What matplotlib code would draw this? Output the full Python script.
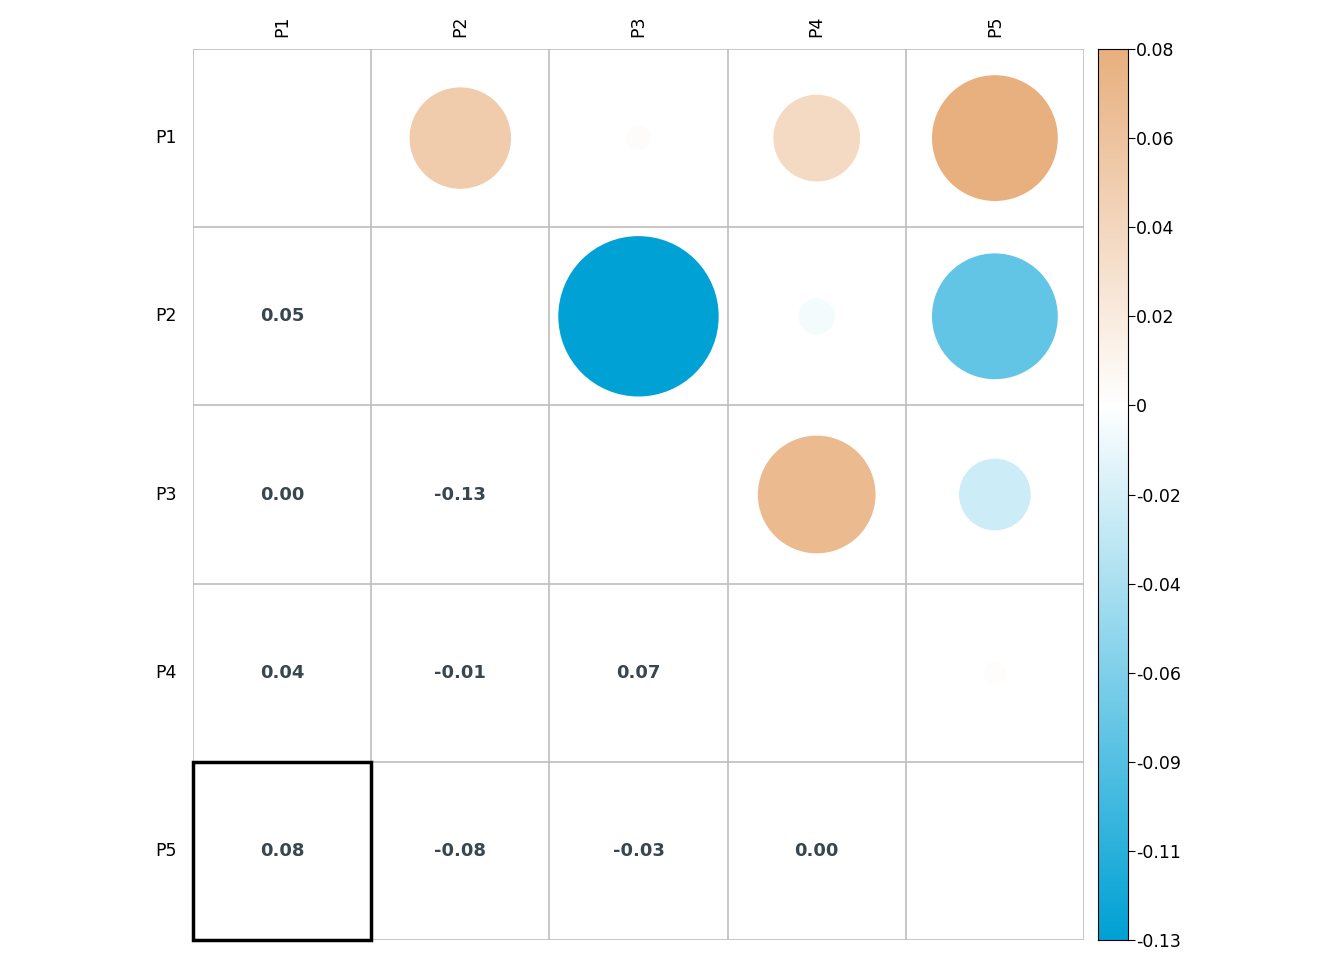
import numpy as np
import matplotlib as mpl
mpl.use('Agg')
import matplotlib.pyplot as plt
from matplotlib.patches import Circle, Rectangle
from matplotlib.colors import LinearSegmentedColormap

labels = ["P1", "P2", "P3", "P4", "P5"]
# symmetric correlation values (upper shown as circles, lower as numbers)
corr = np.array([
    [1.0,    0.052,  0.003,  0.038,  0.08],
    [0.052,  1.0,   -0.13,  -0.0066, -0.08],
    [0.003, -0.13,   1.0,    0.07,  -0.026],
    [0.038, -0.0066, 0.07,   1.0,    0.0025],
    [0.08,  -0.08,  -0.026,  0.0025, 1.0],
])
vmin, vmax = -0.13, 0.08
cbar_ticks = ["0.08", "0.06", "0.04", "0.02", "0", "-0.02", "-0.04",
              "-0.06", "-0.09", "-0.11", "-0.13"]

neg_c, pos_c = "#00A1D5", "#E8B07F"
cmap_neg = LinearSegmentedColormap.from_list("neg", [neg_c, "#FFFFFF"])
cmap_pos = LinearSegmentedColormap.from_list("pos", ["#FFFFFF", pos_c])

def colour(v):
    if v >= 0:
        return cmap_pos(v / vmax)
    return cmap_neg(1 - v / vmin)

fig = plt.figure(figsize=(13.44, 9.6), dpi=100)
ax = fig.add_axes([193/1344, 20/960, 891/1344, 891/960])
n = len(labels)
ax.set_xlim(0, n)
ax.set_ylim(n, 0)
ax.set_aspect('equal')
ax.axis('off')

for k in range(n + 1):
    ax.plot([k, k], [0, n], color="#BEBEBE", lw=1.2, zorder=1)
    ax.plot([0, n], [k, k], color="#BEBEBE", lw=1.2, zorder=1)

rmax = 0.45
for i in range(n):
    for j in range(n):
        v = corr[i, j]
        if j > i:
            r = rmax * np.sqrt(abs(v) / 0.13)
            ax.add_patch(Circle((j + 0.5, i + 0.5), r, color=colour(v), lw=0, zorder=2))
        elif j < i:
            ax.text(j + 0.5, i + 0.5, "%.2f" % v, ha='center', va='center',
                    fontsize=13, fontweight='bold', color="#37474F")

ax.add_patch(Rectangle((0, 4), 1, 1, fill=False, lw=2.5, ec='black', zorder=3, clip_on=False))

for k, lab in enumerate(labels):
    ax.text(-0.09, k + 0.5, lab, ha='right', va='center', fontsize=12.5)
    ax.text(k + 0.5, -0.07, lab, ha='center', va='bottom', rotation=90, fontsize=12.5)

# colour bar: 0 sits 4/10 from the top
cax = fig.add_axes([1098/1344, 20/960, 30/1344, 891/960])
pos = np.linspace(0, 10, 400)
vals = np.where(pos <= 4, vmax * (4 - pos) / 4, vmin * (pos - 4) / 6)
img = np.array([[colour(v)] for v in vals])
cax.imshow(img, aspect='auto', extent=[0, 1, 10, 0])
cax.set_xticks([])
cax.set_yticks(range(11))
cax.set_yticklabels(cbar_ticks, fontsize=12.5)
cax.yaxis.tick_right()
cax.tick_params(axis='y', length=5, width=0.8, pad=1)
for s in cax.spines.values():
    s.set_linewidth(0.8)

fig.savefig("out.png", dpi=100)
